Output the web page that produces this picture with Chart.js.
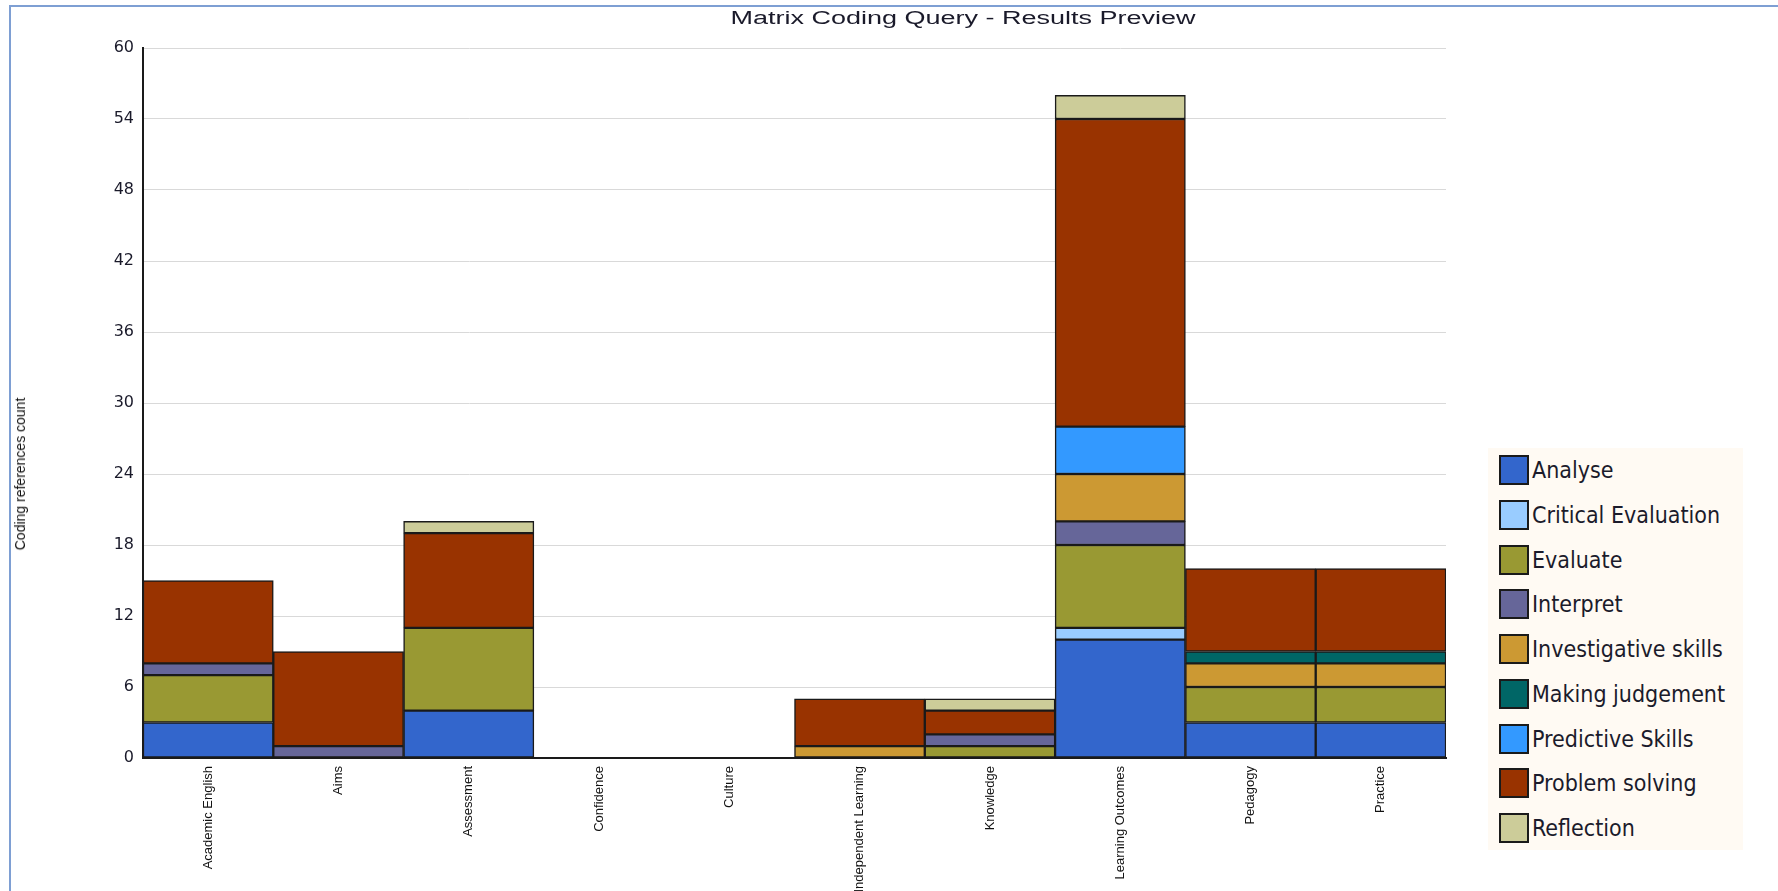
<!DOCTYPE html>
<html>
<head>
<meta charset="utf-8">
<script src="https://cdn.jsdelivr.net/npm/chart.js@4"></script>
<style>
  html, body { margin: 0; padding: 0; background: #fff; overflow: hidden; }
  #wrap { position: relative; width: 1778px; height: 891px; }
  #frame { position: absolute; left: 9px; top: 5px; right: 0; bottom: 0;
           border-top: 2px solid #7e9fd3; border-left: 2px solid #7e9fd3; }
  #title { position: absolute; top: 8px; left: 663px; width: 600px; text-align: center;
           font: 18px "Liberation Sans", Arial, sans-serif; color: #1a1a2a;
           transform: scaleX(1.5); transform-origin: 50% 0; }
  #ytitle { position: absolute; left: 20px; top: 474px; white-space: nowrap;
            font: 14px "Liberation Sans Narrow", "Arial Narrow", sans-serif; color: #111;
            transform: translate(-50%, -50%) rotate(-90deg); }
  #chart { position: absolute; left: 0; top: 0; }
  #legend { position: absolute; left: 1488px; top: 448px; width: 255px; height: 402px;
            background: #fffaf3; }
  .item { position: absolute; left: 11px; height: 30px; display: flex; align-items: center;
          font: 23px "DejaVu Sans Condensed", "DejaVu Sans", sans-serif; color: #1b1b2b; }
  .sw { width: 26px; height: 26px; border: 2px solid #1a1a1a; margin-right: 3px; box-sizing: content-box; }
</style>
</head>
<body>
<div id="wrap">
  <div id="frame"></div>
  <canvas id="chart" width="1778" height="891"></canvas>
  <div id="title">Matrix Coding Query - Results Preview</div>
  <div id="ytitle">Coding references count</div>
  <div id="legend"></div>
</div>
<script>
const categories = ["Academic English", "Aims", "Assessment", "Confidence", "Culture",
  "Independent Learning", "Knowledge", "Learning Outcomes", "Pedagogy", "Practice"];

const seriesNames = ["Analyse", "Critical Evaluation", "Evaluate", "Interpret",
  "Investigative skills", "Making judgement", "Predictive Skills", "Problem solving", "Reflection"];

const seriesColors = ["#3366cc", "#99ccff", "#999933", "#666699",
  "#cc9933", "#006666", "#3399ff", "#993300", "#cccc99"];

// values per series, in category order
const analyse            = [3, 0, 4, 0, 0, 0, 0, 10, 3, 3];
const criticalEvaluation = [0, 0, 0, 0, 0, 0, 0, 1, 0, 0];
const evaluate           = [4, 0, 7, 0, 0, 0, 1, 7, 3, 3];
const interpret          = [1, 1, 0, 0, 0, 0, 1, 2, 0, 0];
const investigative      = [0, 0, 0, 0, 0, 1, 0, 4, 2, 2];
const makingJudgement    = [0, 0, 0, 0, 0, 0, 0, 0, 1, 1];
const predictive         = [0, 0, 0, 0, 0, 0, 0, 4, 0, 0];
const problemSolving     = [7, 8, 8, 0, 0, 4, 2, 26, 7, 7];
const reflection         = [0, 0, 1, 0, 0, 0, 1, 2, 0, 0];

const yTicks = [0, 6, 12, 18, 24, 30, 36, 42, 48, 54, 60];

const seriesValues = [analyse, criticalEvaluation, evaluate, interpret, investigative,
  makingJudgement, predictive, problemSolving, reflection];

const datasets = seriesNames.map((name, i) => ({
  label: name,
  data: seriesValues[i].map((v) => (v === 0 ? null : v)),
  backgroundColor: seriesColors[i],
  borderColor: "#1a1a1a",
  borderWidth: 1.5,
  borderSkipped: false,
  categoryPercentage: 1,
  barPercentage: 1,
}));

const narrow = "'Liberation Sans Narrow', 'Arial Narrow', 'Liberation Sans', sans-serif";

new Chart(document.getElementById("chart"), {
  type: "bar",
  data: { labels: categories, datasets: datasets },
  options: {
    responsive: false,
    animation: false,
    layout: { padding: { top: 48, right: 332, left: 0, bottom: 0 } },
    plugins: {
      legend: { display: false },
      title: { display: false },
      tooltip: { enabled: false },
    },
    scales: {
      x: {
        stacked: true,
        grid: { display: false, drawTicks: false },
        border: { color: "#1a1a1a", width: 2 },
        ticks: {
          minRotation: 90,
          maxRotation: 90,
          autoSkip: false,
          padding: 8,
          color: "#111",
          font: { family: narrow, size: 13 },
        },
        afterFit: (scale) => { scale.height = 133; },
      },
      y: {
        stacked: true,
        min: 0,
        max: 60,
        afterBuildTicks: (scale) => { scale.ticks = yTicks.map((v) => ({ value: v })); },
        grid: { color: "#d9d9d9", lineWidth: 1, drawTicks: false },
        border: { color: "#1a1a1a", width: 2 },
        ticks: {
          padding: 9,
          color: "#1a1a2a",
          font: { family: "'DejaVu Sans', sans-serif", size: 16 },
        },
        afterFit: (scale) => { scale.width = 143; },
      },
    },
  },
});

// legend built from the same series arrays
const legend = document.getElementById("legend");
seriesNames.forEach((name, i) => {
  const item = document.createElement("div");
  item.className = "item";
  item.style.top = (7 + i * 44.75) + "px";
  const sw = document.createElement("div");
  sw.className = "sw";
  sw.style.background = seriesColors[i];
  item.appendChild(sw);
  item.appendChild(document.createTextNode(name));
  legend.appendChild(item);
});
</script>
</body>
</html>
